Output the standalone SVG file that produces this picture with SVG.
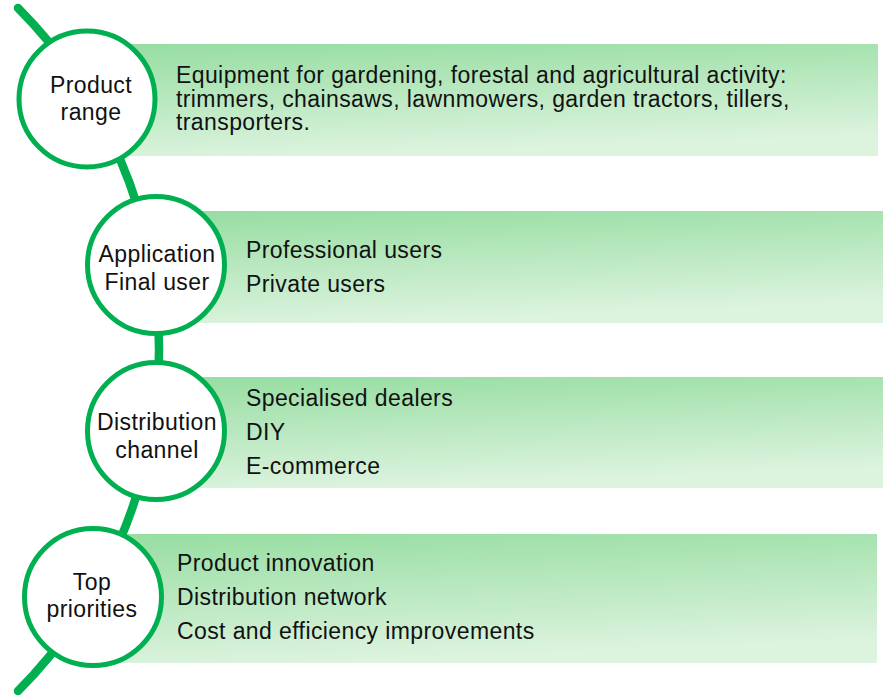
<svg xmlns="http://www.w3.org/2000/svg" width="885" height="698" viewBox="0 0 885 698">
<defs>
<linearGradient id="bandGrad" x1="0" y1="0" x2="0.25" y2="1">
<stop offset="0" stop-color="#96dda1"/>
<stop offset="1" stop-color="#dcf3de"/>
</linearGradient>
</defs>
<style>
.band{fill:url(#bandGrad);}
.node{fill:#ffffff;stroke:#00b050;stroke-width:5;}
.conn{fill:none;stroke:#00b050;stroke-width:8.5;stroke-linecap:round;}
.ct{font-family:"Liberation Sans",Arial,sans-serif;font-size:23px;letter-spacing:0.4px;fill:#111;text-anchor:middle;}
.bt{font-family:"Liberation Sans",Arial,sans-serif;font-size:23px;letter-spacing:0.4px;fill:#111;}
</style>
<g id="bands">
<rect class="band" x="90" y="44" width="788" height="112"/>
<rect class="band" x="156" y="211" width="727" height="112"/>
<rect class="band" x="156" y="377" width="727" height="111"/>
<rect class="band" x="93" y="534" width="784" height="129"/>
</g>
<g id="connectors">
<path class="conn" d="M 18 8 A 484 484 0 0 1 18 691"/>
</g>
<g id="node-product-range">
<circle class="node" cx="87" cy="99" r="68"/>
<text class="ct" x="91" y="93">Product</text>
<text class="ct" x="91" y="120">range</text>
<text class="bt" x="176" y="83">Equipment for gardening, forestal and agricultural activity:</text>
<text class="bt" x="176" y="106.5">trimmers, chainsaws, lawnmowers, garden tractors, tillers,</text>
<text class="bt" x="176" y="130">transporters.</text>
</g>
<g id="node-application">
<circle class="node" cx="156" cy="265" r="68.5"/>
<text class="ct" x="157" y="262">Application</text>
<text class="ct" x="157" y="290">Final user</text>
<text class="bt" x="246" y="258">Professional users</text>
<text class="bt" x="246" y="292">Private users</text>
</g>
<g id="node-distribution">
<circle class="node" cx="156" cy="431" r="68.5"/>
<text class="ct" x="157" y="430">Distribution</text>
<text class="ct" x="157" y="458">channel</text>
<text class="bt" x="246" y="406">Specialised dealers</text>
<text class="bt" x="246" y="440">DIY</text>
<text class="bt" x="246" y="474">E-commerce</text>
</g>
<g id="node-top-priorities">
<circle class="node" cx="93" cy="597" r="68.5"/>
<text class="ct" x="92" y="590">Top</text>
<text class="ct" x="92" y="617">priorities</text>
<text class="bt" x="177" y="571">Product innovation</text>
<text class="bt" x="177" y="605">Distribution network</text>
<text class="bt" x="177" y="639">Cost and efficiency improvements</text>
</g>
</svg>
